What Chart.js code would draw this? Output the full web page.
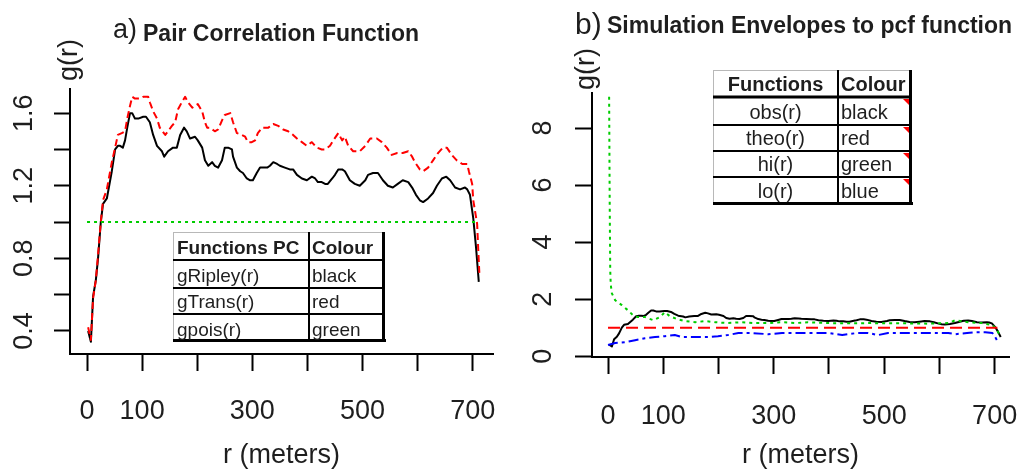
<!DOCTYPE html>
<html>
<head>
<meta charset="utf-8">
<script src="https://cdn.jsdelivr.net/npm/chart.js@4.4.1/dist/chart.umd.min.js"></script>
<style>
  body { margin: 0; background: #fff; }
  #wrap { position: relative; width: 1019px; height: 474px; }
  canvas { position: absolute; top: 0; }
</style>
</head>
<body>
<div id="wrap">
  <canvas id="chartA" width="510" height="474" style="left:0"></canvas>
  <canvas id="chartB" width="509" height="474" style="left:510px"></canvas>
</div>
<script>
// Panel a) pair correlation function
const rRipley = [2,7,11,16,20,25,29,36,45,51,56,60,65,69,73,78,82,87,93,102,107,114,120,127,136,140,147,156,163,169,176,181,187,196,201,209,214,220,227,232,238,245,250,256,263,265,272,278,283,290,296,301,308,314,319,327,332,338,345,350,359,368,374,381,390,399,408,414,419,426,432,437,445,450,456,463,468,477,486,495,505,510,519,528,537,546,555,564,573,583,590,597,604,610,619,628,635,644,652,659,668,677,686,690,695,701,706,711];
const gRipley = [0.40,0.34,0.59,0.68,0.80,1.00,1.10,1.13,1.28,1.40,1.42,1.42,1.41,1.45,1.52,1.60,1.60,1.57,1.57,1.58,1.58,1.55,1.48,1.42,1.39,1.36,1.39,1.41,1.41,1.48,1.52,1.50,1.46,1.47,1.45,1.41,1.34,1.31,1.33,1.31,1.30,1.34,1.41,1.41,1.40,1.36,1.30,1.28,1.27,1.24,1.23,1.23,1.27,1.30,1.30,1.30,1.31,1.33,1.32,1.31,1.30,1.29,1.29,1.26,1.24,1.23,1.25,1.24,1.22,1.22,1.21,1.21,1.24,1.26,1.29,1.29,1.28,1.23,1.21,1.20,1.23,1.26,1.27,1.27,1.23,1.20,1.19,1.21,1.23,1.22,1.19,1.15,1.12,1.11,1.13,1.16,1.20,1.24,1.25,1.23,1.19,1.18,1.19,1.18,1.15,1.02,0.86,0.67];

const rTrans = [2,7,11,16,20,25,29,36,45,51,56,63,69,73,78,82,87,96,102,111,114,120,127,132,142,147,154,160,165,172,178,183,191,196,201,209,214,218,223,232,238,245,250,260,265,272,281,287,292,299,305,310,318,329,338,347,356,365,374,381,390,399,408,417,426,432,441,447,456,463,468,474,483,495,505,514,526,535,544,553,563,573,583,590,595,604,610,619,628,637,646,653,662,671,681,690,693,699,701,708,710,712];
const gTrans = [0.42,0.35,0.58,0.68,0.82,1.00,1.12,1.18,1.33,1.41,1.48,1.49,1.50,1.57,1.64,1.69,1.68,1.68,1.69,1.69,1.66,1.61,1.57,1.52,1.48,1.50,1.53,1.55,1.62,1.66,1.69,1.66,1.63,1.64,1.65,1.61,1.55,1.52,1.52,1.50,1.51,1.56,1.59,1.60,1.55,1.49,1.48,1.47,1.44,1.44,1.45,1.49,1.52,1.52,1.54,1.53,1.51,1.50,1.48,1.46,1.44,1.42,1.44,1.41,1.40,1.40,1.42,1.45,1.49,1.45,1.47,1.42,1.39,1.39,1.42,1.46,1.46,1.44,1.41,1.37,1.38,1.38,1.39,1.36,1.33,1.29,1.28,1.30,1.34,1.38,1.41,1.41,1.37,1.34,1.32,1.32,1.28,1.21,1.12,0.99,0.85,0.72];

const rPois = [0, 710];
const gPois = [1, 1];

// Panel b) simulation envelopes (obs(r) is the same estimate as gRipley)
const rTheo = [0, 705];
const gTheo = [1, 1];

const rHi = [2,3,4,5,7,13,25,36,45,54,67,82,94,103,112,125,139,158,176,194,217,242,266,290,315,339,362,399,435,471,507,543,580,616,629,652,677,696,705,710];
const gHi = [9.1,5.5,3.0,2.5,2.2,1.96,1.79,1.61,1.44,1.37,1.37,1.26,1.37,1.54,1.40,1.30,1.23,1.19,1.23,1.19,1.16,1.19,1.16,1.16,1.19,1.16,1.19,1.16,1.15,1.16,1.15,1.15,1.14,1.16,1.26,1.19,1.16,1.09,0.91,0.68];

const rLo = [0,13,31,49,67,85,103,121,134,158,181,199,217,236,260,290,315,339,362,399,424,450,471,489,507,543,580,616,629,650,665,683,696,701,707];
const gLo = [0.39,0.46,0.49,0.56,0.63,0.67,0.70,0.74,0.67,0.67,0.67,0.70,0.74,0.81,0.81,0.77,0.81,0.81,0.81,0.81,0.74,0.81,0.81,0.74,0.81,0.81,0.81,0.81,0.77,0.81,0.84,0.84,0.81,0.67,0.46];

// ticks
const xTicks = [0, 100, 200, 300, 400, 500, 600, 700];
const xTickLabels = ['0', '100', '', '300', '', '500', '', '700'];
const yTicksA = [0.4, 0.6, 0.8, 1.0, 1.2, 1.4, 1.6];
const yLabelsA = ['0.4', '', '0.8', '', '1.2', '', '1.6'];
const yTicksB = [0, 2, 4, 6, 8];
const yLabelsB = ['0', '2', '4', '6', '8'];

// legend tables
const legendA = [['gRipley(r)', 'black'], ['gTrans(r)', 'red'], ['gpois(r)', 'green']];
const legendB = [['obs(r)', 'black'], ['theo(r)', 'red'], ['hi(r)', 'green'], ['lo(r)', 'blue']];

const FONT = "'Liberation Sans', Arial, sans-serif";
const TXT = '#1e1e1e';
const RED = '#ff0000';
const GREEN = '#00cc00';
const BLUE = '#0000ff';
const axisFont = { family: FONT, size: 27 };

function pts(xs, ys) {
    return xs.map((x, i) => ({ x: x, y: ys[i] }));
}

function line(label, xs, ys, color, dash, order) {
    return {
        label: label,
        data: pts(xs, ys),
        borderColor: color,
        borderWidth: 2,
        borderDash: dash,
        borderJoinStyle: 'round',
        pointRadius: 0,
        tension: 0,
        fill: false,
        order: order
    };
}

function drawTitle(ctx, pre, preSize, preX, preY, text, x, y) {
    ctx.save();
    ctx.fillStyle = TXT;
    ctx.textAlign = 'left';
    ctx.textBaseline = 'alphabetic';
    ctx.font = preSize + 'px ' + FONT;
    ctx.fillText(pre, preX, preY);
    ctx.font = 'bold 23px ' + FONT;
    ctx.fillText(text, x, y);
    ctx.restore();
}

function drawYName(ctx, x, y) {
    ctx.save();
    ctx.translate(x, y);
    ctx.rotate(-Math.PI / 2);
    ctx.fillStyle = TXT;
    ctx.font = '27px ' + FONT;
    ctx.textAlign = 'center';
    ctx.textBaseline = 'middle';
    ctx.fillText('g(r)', 0, 0);
    ctx.restore();
}

function hline(ctx, x1, x2, y, w, c) {
    ctx.beginPath();
    ctx.strokeStyle = c;
    ctx.lineWidth = w;
    ctx.moveTo(x1, y);
    ctx.lineTo(x2, y);
    ctx.stroke();
}
function vline(ctx, x, y1, y2, w, c) {
    ctx.beginPath();
    ctx.strokeStyle = c;
    ctx.lineWidth = w;
    ctx.moveTo(x, y1);
    ctx.lineTo(x, y2);
    ctx.stroke();
}

// t: left, top, right, bottom, col, rows (row bottoms), head, body, size, centerFirst, headRule, flags
function drawTable(ctx, t) {
    ctx.save();
    ctx.fillStyle = '#fff';
    ctx.fillRect(t.left, t.top, t.right - t.left, t.bottom - t.top);
    hline(ctx, t.left, t.right, t.top + 0.5, 1, '#b8b8b8');
    vline(ctx, t.left + 0.5, t.top, t.bottom, 1, '#b8b8b8');
    t.rows.slice(0, -1).forEach((y, i) => {
        hline(ctx, t.left, t.right, y, (i === 0 ? t.headRule : 2), '#000');
    });
    vline(ctx, t.col, t.top, t.bottom, 2, '#000');
    hline(ctx, t.left, t.right + 1, t.bottom - 1.5, 3, '#000');
    vline(ctx, t.right - 1.5, t.top, t.bottom, 3, '#000');

    ctx.fillStyle = TXT;
    ctx.textBaseline = 'alphabetic';
    const firstX = t.centerFirst ? (t.left + t.col) / 2 : t.left + 4;
    const cells = [t.head].concat(t.body);
    cells.forEach((row, i) => {
        ctx.font = (i === 0 ? 'bold ' : '') + t.size + 'px ' + FONT;
        const base = t.rows[i] - 6;
        ctx.textAlign = t.centerFirst ? 'center' : 'left';
        ctx.fillText(row[0], firstX, base);
        ctx.textAlign = 'left';
        ctx.fillText(row[1], t.col + 3, base);
        if (t.flags && i > 0) {
            const top = t.rows[i - 1] + 2;
            const xr = t.right - 3;
            ctx.beginPath();
            ctx.fillStyle = RED;
            ctx.moveTo(xr - 6, top);
            ctx.lineTo(xr, top);
            ctx.lineTo(xr, top + 6);
            ctx.closePath();
            ctx.fill();
            ctx.fillStyle = TXT;
        }
    });
    ctx.restore();
}

const decorA = {
    id: 'decorA',
    afterDraw(chart) {
        const ctx = chart.ctx;
        drawTitle(ctx, 'a)', 27, 113, 38, 'Pair Correlation Function', 143, 41);
        drawYName(ctx, 70, 60);
        drawTable(ctx, {
            left: 173, top: 232, right: 385, bottom: 342, col: 309,
            rows: [260, 288, 314, 342],
            head: ['Functions PC', 'Colour'], body: legendA,
            size: 19, centerFirst: false, headRule: 2, flags: false
        });
    }
};

const decorB = {
    id: 'decorB',
    afterDraw(chart) {
        const ctx = chart.ctx;
        drawTitle(ctx, 'b)', 30, 65, 34, 'Simulation Envelopes to pcf function', 97, 33);
        drawYName(ctx, 77, 69);
        drawTable(ctx, {
            left: 203, top: 70, right: 402, bottom: 205, col: 328,
            rows: [97, 125, 151, 177, 204],
            head: ['Functions', 'Colour'], body: legendB,
            size: 20, centerFirst: true, headRule: 3, flags: true
        });
    }
};

function xScale(min, max, height, pad) {
    return {
        type: 'linear',
        min: min,
        max: max,
        afterBuildTicks: s => { s.ticks = xTicks.map(v => ({ value: v })); },
        afterFit: s => { s.height = height; s.paddingLeft = 0; s.paddingRight = 0; },
        ticks: {
            font: axisFont, color: TXT, padding: pad,
            minRotation: 0, maxRotation: 0, autoSkip: false,
            callback: (v, i) => xTickLabels[i]
        },
        grid: { drawOnChartArea: false, tickLength: 17, tickWidth: 2, tickColor: '#000' },
        border: { color: '#000', width: 2 },
        title: {
            display: true, text: 'r (meters)', font: axisFont, color: TXT,
            padding: { top: 0, bottom: 2 }
        }
    };
}

function yScale(min, max, width, ticks, labels, tickLen, pad) {
    return {
        type: 'linear',
        min: min,
        max: max,
        afterBuildTicks: s => { s.ticks = ticks.map(v => ({ value: v })); },
        afterFit: s => { s.width = width; s.paddingTop = 0; s.paddingBottom = 0; },
        ticks: {
            font: axisFont, color: TXT, padding: pad,
            minRotation: 90, maxRotation: 90, crossAlign: 'center', autoSkip: false,
            callback: (v, i) => labels[i]
        },
        grid: { drawOnChartArea: false, tickLength: tickLen, tickWidth: 2, tickColor: '#000' },
        border: { color: '#000', width: 2 }
    };
}

new Chart(document.getElementById('chartA'), {
    type: 'line',
    data: {
        datasets: [
            line('gpois(r)', rPois, gPois, GREEN, [3, 4], 0),
            line('gTrans(r)', rTrans, gTrans, RED, [7, 4], 1),
            line('gRipley(r)', rRipley, gRipley, '#000', [], 2)
        ]
    },
    options: {
        responsive: false,
        animation: false,
        devicePixelRatio: 1,
        layout: { padding: { left: 0, top: 89, right: 17, bottom: 0 } },
        plugins: { legend: { display: false }, tooltip: { enabled: false } },
        scales: {
            x: xScale(-30.9, 736.8, 120, 24),
            y: yScale(0.273, 1.733, 70, yTicksA, yLabelsA, 16, 11)
        }
    },
    plugins: [decorA]
});

new Chart(document.getElementById('chartB'), {
    type: 'line',
    data: {
        datasets: [
            line('theo(r)', rTheo, gTheo, RED, [12, 6], 0),
            line('hi(r)', rHi, gHi, GREEN, [3, 4], 1),
            line('lo(r)', rLo, gLo, BLUE, [10, 4, 3, 4], 2),
            line('obs(r)', rRipley, gRipley, '#000', [], 3)
        ]
    },
    options: {
        responsive: false,
        animation: false,
        devicePixelRatio: 1,
        layout: { padding: { left: 0, top: 93, right: 10, bottom: 0 } },
        plugins: { legend: { display: false }, tooltip: { enabled: false } },
        scales: {
            x: xScale(-29, 726, 117, 26),
            y: yScale(-0.03, 9.23, 82, yTicksB, yLabelsB, 17, 24)
        }
    },
    plugins: [decorB]
});
</script>
</body>
</html>
